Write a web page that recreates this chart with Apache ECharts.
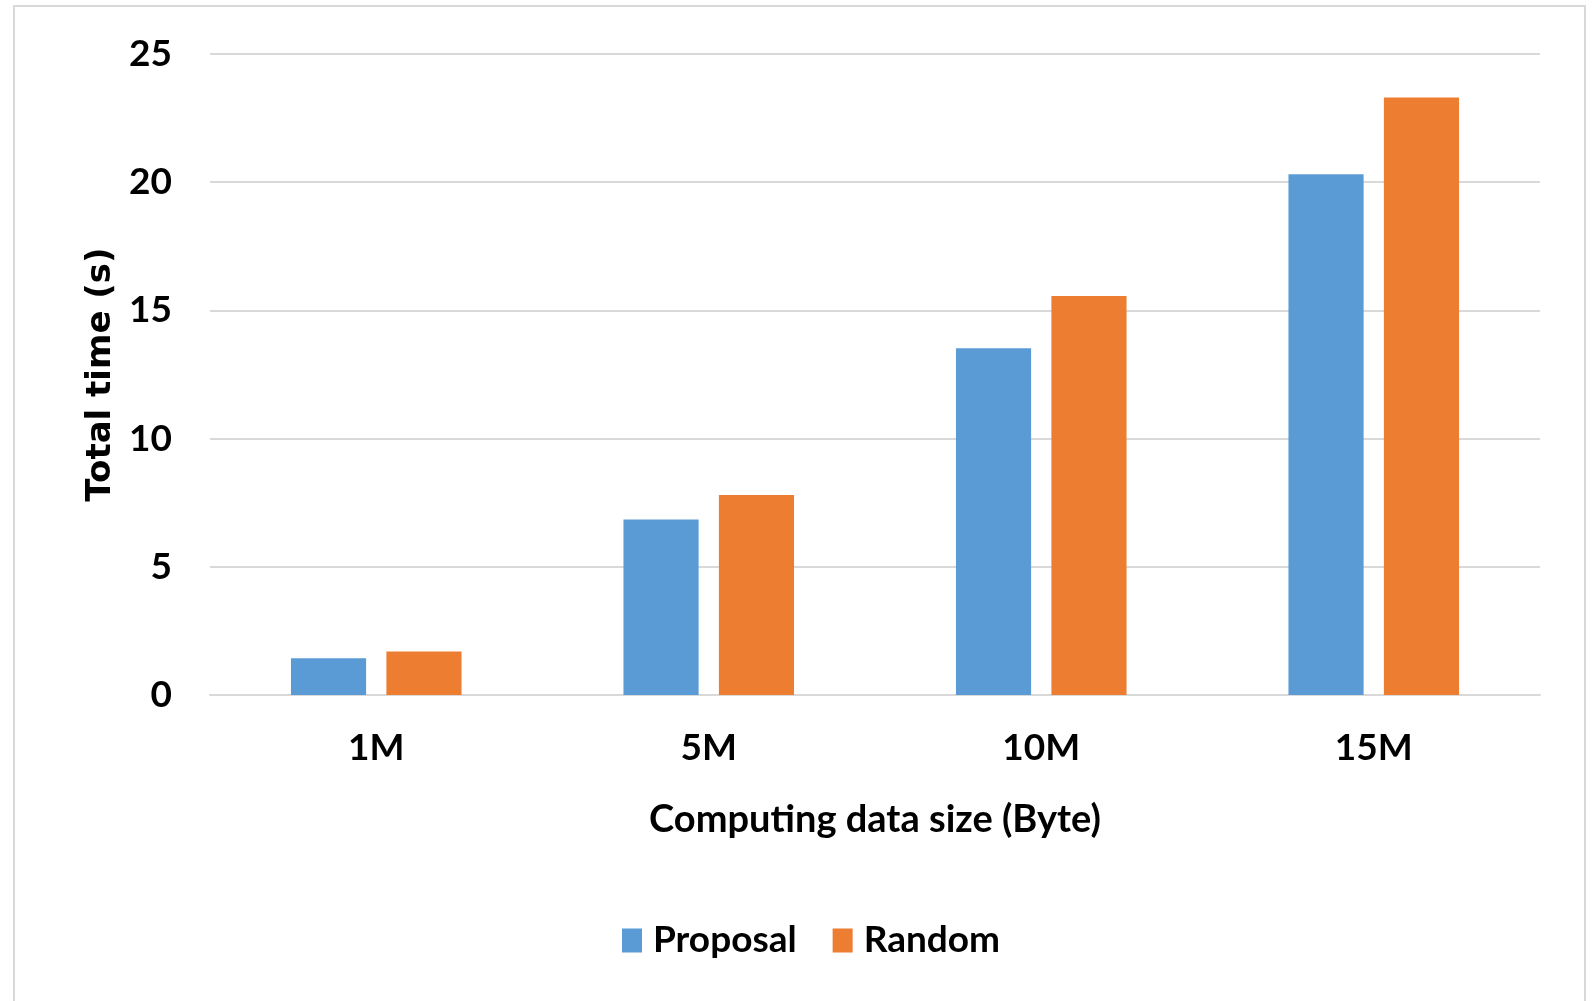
<!DOCTYPE html>
<html>
<head>
<meta charset="utf-8">
<title>Total time vs computing data size</title>
<script src="https://cdn.jsdelivr.net/npm/echarts@6/dist/echarts.min.js"></script>
<style>
  html, body { margin: 0; padding: 0; background: #ffffff; }
  #chart { width: 1594px; height: 1001px; }
</style>
</head>
<body>
<div id="chart"></div>
<script>
// Data
const categories = ['1M', '5M', '10M', '15M'];
const proposal = [1.43, 6.84, 13.52, 20.31];
const random = [1.70, 7.80, 15.56, 23.30];
const yTicks = { min: 0, max: 25, interval: 5 };

const FONT = 'Lato';
const TEXT = { fontFamily: FONT, fontSize: 37, fontWeight: 'bold', color: '#000' };
const chart = echarts.init(document.getElementById('chart'), null, { renderer: 'canvas' });

chart.setOption({
  backgroundColor: '#ffffff',
  animation: false,
  graphic: [{
    type: 'rect',
    shape: { x: 14, y: 6, width: 1571, height: 1010 },
    style: { fill: 'none', stroke: '#d9d9d9', lineWidth: 2 },
    silent: true
  }],
  grid: { left: 210, right: 54, top: 54, bottom: 306 },
  legend: {
    data: ['Proposal', 'Random'],
    bottom: 37,
    left: 617,
    itemWidth: 20,
    itemHeight: 24,
    itemGap: 36,
    icon: 'rect',
    textStyle: Object.assign({}, TEXT, { padding: [0, 0, 0, 6] })
  },
  xAxis: {
    type: 'category',
    data: categories,
    name: 'Computing data size (Byte)',
    nameLocation: 'middle',
    nameGap: 106,
    nameTextStyle: Object.assign({}, TEXT, { fontSize: 38 }),
    axisLine: { show: true, lineStyle: { color: '#d9d9d9', width: 2 } },
    axisTick: { show: false },
    axisLabel: Object.assign({}, TEXT, { margin: 35 })
  },
  yAxis: {
    type: 'value',
    min: yTicks.min,
    max: yTicks.max,
    interval: yTicks.interval,
    name: 'Total time (s)',
    nameLocation: 'middle',
    nameGap: 92,
    nameTextStyle: { fontFamily: 'DejaVu Sans', fontSize: 34, fontWeight: 'bold', color: '#000' },
    axisLine: { show: false },
    axisTick: { show: false },
    axisLabel: Object.assign({}, TEXT, { margin: 38 }),
    splitLine: { lineStyle: { color: '#d9d9d9', width: 2 } }
  },
  series: [
    {
      name: 'Proposal',
      type: 'bar',
      data: proposal,
      barWidth: '22.6%',
      barGap: '27%',
      itemStyle: { color: '#5B9BD5' }
    },
    {
      name: 'Random',
      type: 'bar',
      data: random,
      barWidth: '22.6%',
      barGap: '27%',
      itemStyle: { color: '#ED7D31' }
    }
  ]
});
</script>
</body>
</html>
